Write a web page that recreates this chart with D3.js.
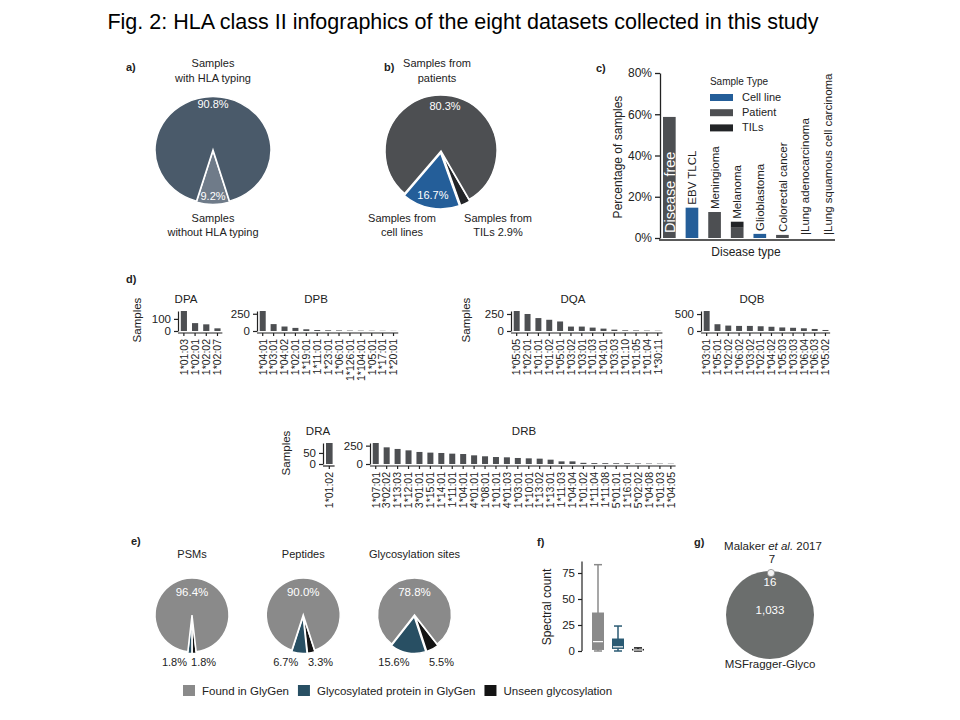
<!DOCTYPE html>
<html>
<head>
<meta charset="utf-8">
<script src="https://cdn.jsdelivr.net/npm/d3@7"></script>
<style>
body { margin: 0; background: #fff; }
svg text { font-family: "Liberation Sans", Arial, sans-serif; fill: #222; }
</style>
</head>
<body>
<script>
/*
 * Fig. 2 - HLA class II infographics, redrawn with d3
 */

var figureTitle = "Fig. 2: HLA class II infographics of the eight datasets collected in this study";

// a) HLA typing
var hlaTypingLabels = ["Samples without HLA typing", "Samples with HLA typing"];
var hlaTypingPct = [9.2, 90.8];

// b) sample source
var sourceLabels = ["TILs", "Cell lines", "Patients"];
var sourcePct = [2.9, 16.7, 80.3];

// c) disease types
var diseaseTypes = ["Disease free", "EBV TLCL", "Meningioma", "Melanoma", "Glioblastoma",
	"Colorectal cancer", "|Lung adenocarcinoma", "|Lung squamous cell carcinoma"];
var sampleTypes = ["Cell line", "Patient", "TILs"];
var cellLinePct = [0, 14.7, 0, 0, 2.0, 0, 0, 0];
var patientPct = [58.7, 0, 12.6, 5.0, 0, 1.5, 0, 0];
var tilPct = [0, 0, 0, 2.9, 0, 0, 0, 0];
var diseaseTicks = [0, 20, 40, 60, 80];

// d) allele counts
var dpaAlleles = ["1*01:03", "1*02:01", "1*02:02", "1*02:07"];
var dpaCounts = [165, 65, 55, 22];
var dpbAlleles = ["1*04:01", "1*03:01", "1*04:02", "1*02:01", "1*19:01", "1*11:01", "1*23:01",
	"1*06:01", "1*126:01", "1*104:01", "1*05:01", "1*17:01", "1*20:01"];
var dpbCounts = [290, 100, 65, 45, 25, 14, 10, 8, 6, 5, 4, 3, 2];
var dqaAlleles = ["1*05:05", "1*02:01", "1*01:01", "1*01:02", "1*05:01", "1*03:02", "1*03:01",
	"1*01:03", "1*04:01", "1*03:03", "1*01:10", "1*01:05", "1*01:04", "1*30:11"];
var dqaCounts = [294, 250, 190, 165, 140, 65, 65, 50, 35, 20, 10, 8, 6, 4];
var dqbAlleles = ["1*03:01", "1*05:01", "1*02:02", "1*06:02", "1*03:02", "1*02:01", "1*04:02",
	"1*05:03", "1*03:03", "1*06:04", "1*06:03", "1*05:02"];
var dqbCounts = [590, 200, 160, 150, 150, 140, 125, 105, 95, 80, 60, 30];
var draAlleles = ["1*01:02"];
var draCounts = [95];
var drbAlleles = ["1*07:01", "3*02:02", "1*13:03", "1*12:01", "3*01:01", "1*15:01", "1*14:01",
	"1*11:01", "1*04:01", "4*01:01", "1*08:01", "1*01:01", "4*01:03", "1*03:01", "1*10:01",
	"1*13:02", "1*13:01", "1*11:03", "1*04:04", "1*01:02", "1*11:04", "1*11:08", "5*01:01",
	"1*16:01", "5*02:02", "1*04:08", "1*01:03", "1*04:05"];
var drbCounts = [286, 227, 205, 186, 164, 155, 150, 141, 136, 118, 105, 95, 91, 82, 77,
	73, 59, 36, 36, 16, 12, 11, 10, 10, 7, 6, 5, 4];

// e) GlyGen comparison
var glyGroups = ["PSMs", "Peptides", "Glycosylation sites"];
var glyCategories = ["Found in GlyGen", "Glycosylated protein in GlyGen", "Unseen glycosylation"];
var foundPct = [96.4, 90.0, 78.8];
var glycoProteinPct = [1.8, 6.7, 15.6];
var unseenPct = [1.8, 3.3, 5.5];

// f) spectral count box plots
var boxMin = [0, 0, 0];
var boxQ1 = [1, 2, 0.5];
var boxMedian = [9, 4, 1];
var boxQ3 = [37, 12, 2];
var boxMax = [83, 24, 3];
var spectralTicks = [0, 25, 50, 75];

// g) overlap
var vennLabels = ["Malaker et al. 2017", "MSFragger-Glyco"];
var malakerOnly = 7;
var sharedSites = 16;
var fraggerOnly = 1033;

var svg = d3.select("body").append("svg")
	.attr("width", 960)
	.attr("height", 720);

svg.append("text")
	.attr("x", 463).attr("y", 29)
	.attr("text-anchor", "middle")
	.style("font-size", "21.5px")
	.style("fill", "#000")
	.text(figureTitle);

function panelLabel(x, y, t){
	svg.append("text").attr("x", x).attr("y", y)
		.style("font-size", "11px").style("font-weight", "bold")
		.text(t);
}

function addText(x, y, t, size, color, anchor){
	return svg.append("text").attr("x", x).attr("y", y)
		.attr("text-anchor", anchor || "middle")
		.style("font-size", (size || 11) + "px")
		.style("fill", color || "#222")
		.text(t);
}

/*
 * Pie helper: angles go clockwise from 12 o'clock like d3.pie
 */
function drawPie(cx, cy, r, sy, values, colors, start, explode){
	var pie = d3.pie().sort(null).startAngle(start).endAngle(start + 2 * Math.PI);
	var arc = d3.arc().innerRadius(0).outerRadius(r);
	var arcs = pie(values);
	var g = svg.append("g")
		.attr("transform", "translate(" + cx + "," + cy + ") scale(1," + sy + ")");
	g.selectAll("path").data(arcs).enter()
		.append("path")
		.attr("d", arc)
		.attr("transform", function(d, i){
			var e = explode[i] || 0;
			var m = (d.startAngle + d.endAngle) / 2;
			return "translate(" + (e * Math.sin(m)) + "," + (-e * Math.cos(m)) + ")";
		})
		.style("fill", function(d, i){ return colors[i]; })
		.style("stroke", "#fff")
		.style("stroke-width", 1.5);
	return arcs;
}

function arcPoint(d, cx, cy, rad, sy){
	var m = (d.startAngle + d.endAngle) / 2;
	return [cx + rad * Math.sin(m), cy - rad * Math.cos(m) * sy];
}

// ---------- a) ----------
panelLabel(126, 71, "a)");
(function(){
	var cx = 213, cy = 150, r = 58, sy = 0.92;
	var start = Math.PI - hlaTypingPct[0] / 100 * Math.PI;
	var arcs = drawPie(cx, cy, r, sy, hlaTypingPct, ["#6f7b89", "#4a5a6a"], start, [1, 0]);
	arcs.forEach(function(d, i){
		var p = arcPoint(d, cx, cy, r * 0.86, sy);
		addText(p[0], p[1], hlaTypingPct[i] + "%", 11, "#fff").attr("dy", "0.35em");
	});
	addText(cx, 67, "Samples");
	addText(cx, 82, "with HLA typing");
	addText(cx, 222, "Samples");
	addText(cx, 236, "without HLA typing");
})();

// ---------- b) ----------
panelLabel(384, 71, "b)");
(function(){
	var cx = 441, cy = 151, r = 56;
	var start = Math.PI - (sourcePct[0] + sourcePct[1]) / 100 * Math.PI + 0.09;
	var arcs = drawPie(cx, cy, r, 1, sourcePct, ["#222427", "#245e99", "#4d4f52"], start, [2, 2, 0]);
	[1, 2].forEach(function(i){
		var p = arcPoint(arcs[i], cx, cy, r * 0.8, 1);
		addText(p[0], p[1], sourcePct[i].toFixed(1) + "%", 11, "#fff").attr("dy", "0.35em");
	});
	addText(437, 67, "Samples from");
	addText(437, 82, "patients");
	addText(402, 222, "Samples from");
	addText(402, 236, "cell lines");
	addText(498, 222, "Samples from");
	addText(498, 236, "TILs " + sourcePct[0] + "%");
})();

// ---------- c) ----------
panelLabel(596, 72, "c)");
(function(){
	var colors = {"Cell line": "#245e99", "Patient": "#4d4f52", "TILs": "#222427"};
	var table = diseaseTypes.map(function(d, i){
		return {disease: d, "Cell line": cellLinePct[i], "Patient": patientPct[i], "TILs": tilPct[i]};
	});
	var stack = d3.stack().keys(sampleTypes)(table);

	var x = d3.scaleBand().domain(diseaseTypes).range([663, 834]).paddingInner(0.44).paddingOuter(0);
	var y = d3.scaleLinear().domain([0, 80]).range([238, 73]);

	svg.append("g").selectAll("g").data(stack).enter()
		.append("g")
		.style("fill", function(s){ return colors[s.key]; })
		.selectAll("rect").data(function(s){ return s; }).enter()
		.append("rect")
		.attr("x", function(d){ return x(d.data.disease); })
		.attr("width", x.bandwidth())
		.attr("y", function(d){ return y(d[1]); })
		.attr("height", function(d){ return y(d[0]) - y(d[1]); });

	table.forEach(function(d){
		var total = d["Cell line"] + d["Patient"] + d["TILs"];
		//the tall bar carries its name inside, the rest sit on top
		var inside = total > 40;
		var ty = inside ? y(0) - 5 : y(total) - 3;
		svg.append("text")
			.attr("transform", "translate(" + (x(d.disease) + x.bandwidth() / 2) + "," + ty + ") rotate(-90)")
			.attr("dy", "0.36em")
			.style("font-size", inside ? "14.5px" : "11.5px")
			.style("fill", inside ? "#fff" : "#222")
			.text(d.disease);
	});

	var yAxis = svg.append("g")
		.attr("transform", "translate(660,0)")
		.call(d3.axisLeft(y).tickValues(diseaseTicks).tickFormat(function(v){ return v + "%"; })
			.tickSize(5).tickSizeOuter(0));
	yAxis.selectAll("text").style("font-size", "12px").style("fill", "#222")
		.style("font-family", "Liberation Sans, Arial, sans-serif");
	yAxis.selectAll("line, path").style("stroke", "#222").style("stroke-width", 1.3);

	svg.append("line").attr("x1", 659).attr("x2", 835).attr("y1", 240).attr("y2", 240)
		.style("stroke", "#222").style("stroke-width", 1.3);

	svg.append("text")
		.attr("transform", "translate(618,157) rotate(-90)")
		.attr("text-anchor", "middle").attr("dy", "0.35em")
		.style("font-size", "12px")
		.text("Percentage of samples");
	addText(746, 256, "Disease type", 12);

	// legend
	addText(739, 85, "Sample Type", 10);
	sampleTypes.forEach(function(k, i){
		svg.append("rect").attr("x", 710).attr("y", 94 + i * 15.2).attr("width", 23).attr("height", 7)
			.style("fill", colors[k]);
		addText(742, 101 + i * 15.2, k, 11, "#222", "start");
	});
})();

// ---------- d) ----------
panelLabel(126, 283, "d)");

var alleleLayout = [
	{title: "DPA", alleles: dpaAlleles, counts: dpaCounts, axisX: 178, baseline: 331, top: 311, step: 11.2, ticks: [0, 100], titleX: 186, ylabelX: 137},
	{title: "DPB", alleles: dpbAlleles, counts: dpbCounts, axisX: 257, baseline: 331, top: 311, step: 10.9, ticks: [0, 250], titleX: 316},
	{title: "DQA", alleles: dqaAlleles, counts: dqaCounts, axisX: 511, baseline: 331, top: 311, step: 10.85, ticks: [0, 250], titleX: 573, ylabelX: 466},
	{title: "DQB", alleles: dqbAlleles, counts: dqbCounts, axisX: 701, baseline: 331, top: 311, step: 10.8, ticks: [0, 500], titleX: 752},
	{title: "DRA", alleles: draAlleles, counts: draCounts, axisX: 323, baseline: 464, top: 443, step: 12, ticks: [0, 50], titleX: 318, ylabelX: 286},
	{title: "DRB", alleles: drbAlleles, counts: drbCounts, axisX: 370, baseline: 464, top: 443, step: 10.93, ticks: [0, 250], titleX: 524}
];

function drawAlleleBars(p){
	var n = p.alleles.length;
	var end = p.axisX + p.step * (n + 0.05);
	var x = d3.scaleBand().domain(p.alleles).range([p.axisX, end]).paddingInner(0.45).paddingOuter(0.25);
	var y = d3.scaleLinear().domain([0, d3.max(p.counts)]).range([p.baseline, p.top]);
	var g = svg.append("g");

	g.selectAll("rect").data(p.alleles).enter()
		.append("rect")
		.attr("x", function(a){ return x(a); })
		.attr("width", x.bandwidth())
		.attr("y", function(a, i){ return y(p.counts[i]); })
		.attr("height", function(a, i){ return p.baseline - y(p.counts[i]); })
		.style("fill", "#4d4f52");

	var yAxis = g.append("g")
		.attr("transform", "translate(" + p.axisX + ",0)")
		.call(d3.axisLeft(y).tickValues(p.ticks).tickSize(4).tickSizeOuter(0));
	yAxis.selectAll("text").style("font-size", "11.5px").style("fill", "#222")
		.style("font-family", "Liberation Sans, Arial, sans-serif");
	yAxis.selectAll("line, path").style("stroke", "#222").style("stroke-width", 1.2);

	var xAxis = g.append("g")
		.attr("transform", "translate(0," + (p.baseline + 2) + ")")
		.call(d3.axisBottom(x).tickSize(3).tickSizeOuter(0).tickFormat(""));
	xAxis.select("path").attr("d", "M" + p.axisX + ",0H" + (end - 1));
	xAxis.selectAll("line, path").style("stroke", "#222").style("stroke-width", 1.2);

	p.alleles.forEach(function(a){
		g.append("text")
			.attr("transform", "translate(" + (x(a) + x.bandwidth() / 2) + "," + (p.baseline + 8) + ") rotate(-90)")
			.attr("text-anchor", "end").attr("dy", "0.36em")
			.style("font-size", "10.5px")
			.text(a);
	});

	addText(p.titleX, p.top - 8, p.title, 11.5);
	if(p.ylabelX){
		g.append("text")
			.attr("transform", "translate(" + p.ylabelX + "," + (p.baseline - 11) + ") rotate(-90)")
			.attr("text-anchor", "middle").attr("dy", "0.35em")
			.style("font-size", "11.5px")
			.text("Samples");
	}
}

alleleLayout.forEach(drawAlleleBars);

// ---------- e) ----------
panelLabel(131, 545, "e)");
(function(){
	var glyColors = ["#8a8a8a", "#284f63", "#141414"];
	var centers = d3.scalePoint().domain(glyGroups).range([192, 414.5]);
	var cy = 615, r = 37;
	glyGroups.forEach(function(grp, i){
		var cx = centers(grp);
		var vals = [unseenPct[i], glycoProteinPct[i], foundPct[i]];
		//small slices sit centred on 6 o'clock
		var start = Math.PI - (unseenPct[i] + glycoProteinPct[i]) / 100 * Math.PI;
		var arcs = drawPie(cx, cy, r, 1, vals, [glyColors[2], glyColors[1], glyColors[0]], start, [1.5, 1.5, 0]);
		addText(cx, 558, grp, 11);
		var top = arcPoint(arcs[2], cx, cy, r * 0.62, 1);
		addText(top[0], top[1], foundPct[i].toFixed(1) + "%", 11.5, "#fff").attr("dy", "0.35em");
		var blackMid = (arcs[0].startAngle + arcs[0].endAngle) / 2;
		addText(cx - 5, 666, glycoProteinPct[i].toFixed(1) + "%", 11, "#222", "end");
		addText(cx - 3 + r * Math.sin(blackMid), 666, unseenPct[i].toFixed(1) + "%", 11, "#222", "start");
	});

	// legend, laid out from the measured text widths
	var lx = 183;
	glyCategories.forEach(function(c, i){
		svg.append("rect").attr("x", lx).attr("y", 685).attr("width", 12).attr("height", 11)
			.style("fill", glyColors[i]);
		var t = addText(lx + 19, 694.5, c, 11.5, "#222", "start");
		lx = lx + 19 + t.node().getComputedTextLength() + 9;
	});
})();

// ---------- f) ----------
panelLabel(537, 546, "f)");
(function(){
	var colors = ["#8a8a8a", "#2a5a73", "#1c1c1c"];
	var x = d3.scalePoint().domain([0, 1, 2]).range([598, 638]);
	var y = d3.scaleLinear().domain([0, 75]).range([651, 573]);
	var w = 12;

	var yAxis = svg.append("g")
		.attr("transform", "translate(582,0)")
		.call(d3.axisLeft(y).tickValues(spectralTicks).tickSize(4).tickSizeOuter(0));
	yAxis.select("path").attr("d", "M0," + y(0) + "V" + y(d3.max(boxMax) + 3));
	yAxis.selectAll("text").style("font-size", "11.5px").style("fill", "#222")
		.style("font-family", "Liberation Sans, Arial, sans-serif");
	yAxis.selectAll("line, path").style("stroke", "#222").style("stroke-width", 1.2);

	boxMin.forEach(function(v, i){
		var cx = x(i);
		var g = svg.append("g").style("stroke", colors[i]).style("stroke-width", 1.5);
		g.append("line").attr("x1", cx).attr("x2", cx).attr("y1", y(boxMin[i])).attr("y2", y(boxMax[i]));
		g.append("line").attr("x1", cx - 4).attr("x2", cx + 4).attr("y1", y(boxMax[i])).attr("y2", y(boxMax[i]));
		g.append("line").attr("x1", cx - 4).attr("x2", cx + 4).attr("y1", y(boxMin[i])).attr("y2", y(boxMin[i]));
		g.append("rect").attr("x", cx - w / 2).attr("width", w)
			.attr("y", y(boxQ3[i])).attr("height", y(boxQ1[i]) - y(boxQ3[i]))
			.style("fill", colors[i]).style("stroke", "none");
		g.append("line").attr("x1", cx - w / 2 + 1).attr("x2", cx + w / 2 - 1)
			.attr("y1", y(boxMedian[i])).attr("y2", y(boxMedian[i]))
			.style("stroke", "#fff").style("stroke-width", 1.2);
	});

	svg.append("text")
		.attr("transform", "translate(547,607) rotate(-90)")
		.attr("text-anchor", "middle").attr("dy", "0.35em")
		.style("font-size", "12px")
		.text("Spectral count");
})();

// ---------- g) ----------
panelLabel(694, 546, "g)");
(function(){
	var cx = 770, cy = 615;
	var rScale = d3.scaleSqrt().domain([0, fraggerOnly + sharedSites]).range([0, 44]);
	var rBig = rScale(fraggerOnly + sharedSites);
	//only the part of Malaker's set outside MSFragger shows as a dot on the rim
	var rDot = rScale(malakerOnly);

	svg.append("circle").attr("cx", cx).attr("cy", cy).attr("r", rBig)
		.style("fill", "#6b6e6d");
	svg.append("circle").attr("cx", cx + 1).attr("cy", cy - rBig + 2).attr("r", rDot)
		.style("fill", "#f4f4f4").style("stroke", "#8a8a8a").style("stroke-width", 0.8);

	var head = addText(773, 550, "", 11.5);
	head.append("tspan").text("Malaker ");
	head.append("tspan").style("font-style", "italic").text("et al.");
	head.append("tspan").text(" 2017");
	addText(772, 563, malakerOnly, 11.5);
	addText(cx, 586, sharedSites, 11.5, "#fff");
	addText(cx, 614, d3.format(",")(fraggerOnly), 11.5, "#fff");
	addText(cx, 668, vennLabels[1], 11.5);
})();
</script>
</body>
</html>
